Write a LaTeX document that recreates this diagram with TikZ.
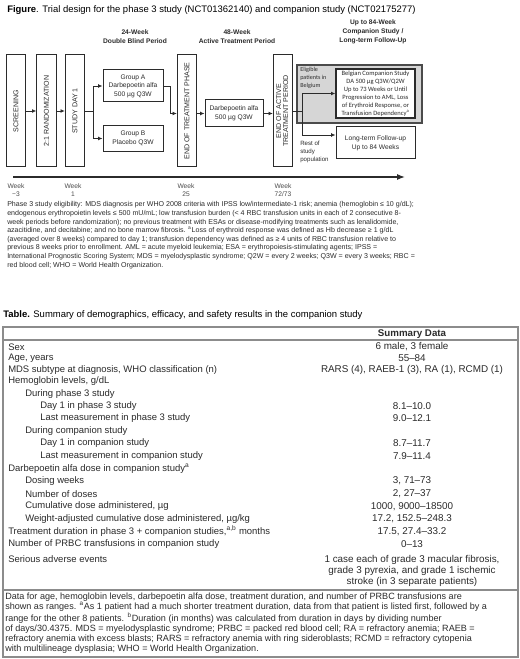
\documentclass[tikz,border=0pt]{standalone}
\usepackage{graphicx}
\usepackage{fontspec}
\setmainfont{Liberation Sans}
\newfontfamily\calibrifont{Carlito}
\usetikzlibrary{arrows.meta,positioning,calc}
\definecolor{inkdark}{HTML}{2B2B2B}
\definecolor{zonegray}{HTML}{D6D6D6}
\definecolor{rulegray}{HTML}{8C8C8C}

\begin{document}
\begin{tikzpicture}[
    x=0.75pt, y=-0.75pt,
    >={Latex[length=3.2pt,width=2.8pt]},
    phasebar/.style={draw=inkdark, line width=0.75pt, minimum width=14.5pt, minimum height=84pt, inner sep=0pt, font=\fontsize{5.3}{6.3}\selectfont, text=inkdark},
    armbox/.style={draw=inkdark, line width=0.75pt, align=center, inner sep=0pt, minimum width=45pt, font=\fontsize{5}{6.4}\selectfont, text=inkdark},
    zone/.style={draw=inkdark!85, line width=1.1pt, fill=zonegray, minimum width=93.75pt, minimum height=43.5pt, inner sep=0pt},
    period/.style={font=\fontsize{5}{6.8}\selectfont\bfseries, align=center, text=inkdark},
    flow/.style={->, line width=0.6pt, inkdark},
    timeline/.style={-{Latex[length=6pt,width=4.6pt]}, line width=1.1pt, inkdark},
    sidenote/.style={font=\fontsize{4.6}{6}\selectfont, align=left, anchor=north west, inner sep=0pt, text=inkdark},
    weeklbl/.style={font=\fontsize{5}{6.3}\selectfont, align=center, text=inkdark!85},
    caption/.style={font=\fontsize{7.1}{8.5}\selectfont, anchor=west, inner sep=0pt},
    notes/.style={font=\fontsize{5.3}{6.45}\selectfont, align=left, anchor=north west, inner sep=0pt, text=inkdark},
    tablerule/.style={rulegray, line width=0.8pt},
    rowlbl/.style={anchor=west, font=\fontsize{7.1}{8.5}\selectfont, inner sep=0pt, text=inkdark},
    rowval/.style={font=\fontsize{7.4}{8.3}\selectfont, inner sep=0pt, align=center, text=inkdark},
]
    \fill[white] (0,0) rectangle (520,659);
    \useasboundingbox (0,0) rectangle (520,659);

    % --- Figure title ---
    \node[caption] (figtitle) at (7,10) {\textbf{Figure}. Trial design for the phase 3 study (NCT01362140) and companion study (NCT02175277)};

    % --- Period headers ---
    \node[period] (hdr24) at (135,37) {24-Week\\Double Blind Period};
    \node[period] (hdr48) at (237,37) {48-Week\\Active Treatment Period};
    \node[period] (hdr84) at (373,32) {Up to 84-Week\\Companion Study /\\Long-term Follow-Up};

    % --- Phase bars ---
    \node[phasebar] (screen) at (16,111) {\rotatebox{90}{SCREENING}};
    \node[phasebar] (rand) at (46.5,111) {\rotatebox{90}{2:1 RANDOMIZATION}};
    \node[phasebar] (study) at (75,111) {\rotatebox{90}{STUDY DAY 1}};
    \node[phasebar] (endtp) at (187,111) {\rotatebox{90}{END OF TREATMENT PHASE}};
    \node[phasebar] (endat) at (283,111) {\rotatebox{90}{\begin{tabular}{@{}c@{}}END OF ACTIVE\\[-1pt]TREATMENT PERIOD\end{tabular}}};

    % --- Treatment arms ---
    \node[armbox, minimum height=24pt] (grpA) at (133,86) {Group A\\Darbepoetin alfa\\500 µg Q3W};
    \node[armbox, minimum height=19pt] (grpB) at (133,138.5) {Group B\\Placebo Q3W};
    \node[armbox, minimum width=43.5pt, minimum height=20.25pt] (dab) at (234,113.5) {Darbepoetin alfa\\500 µg Q3W};

    % --- Companion study / follow-up ---
    \node[zone] (belgzone) at (359.5,94) {};
    \node[armbox, line width=1pt, fill=white, minimum width=59.25pt, minimum height=36.75pt, font=\calibrifont\fontsize{4.9}{6.05}\selectfont] (belg) at (375.5,93.5) {Belgian Companion Study\\DA 500 µg Q3W/Q2W\\Up to 73 Weeks or Until\\Progression to AML, Loss\\of Erythroid Response, or\\Transfusion Dependency\textsuperscript{a}};
    \node[armbox, minimum width=59.25pt, minimum height=24pt, font=\fontsize{5}{6.5}\selectfont] (lterm) at (375.5,143) {Long-term Follow-up\\Up to 84 Weeks};

    \node[sidenote, font=\calibrifont\fontsize{4.6}{6}\selectfont] (elig) at (300,67) {Eligible\\patients in\\Belgium};
    \node[sidenote] (rest) at (300,140.5) {Rest of\\study\\population};

    % --- Flow ---
    \draw[flow] (screen) -- (rand);
    \draw[flow] (rand) -- (study);
    \draw[flow] (study.east) -- ++(8,0) coordinate (split1) |- (grpA.west);
    \draw[flow] (split1) |- (grpB.west);
    \draw[flow] (grpA.east) -- ++(7,0) |- (endtp.west |- dab.west);
    \draw[flow] (endtp.east |- dab.west) -- (dab.west);
    \draw[flow] (dab.east) -- (endat.west |- dab.east);
    \draw[flow] (endat.east) -- ++(9,0) coordinate (split2) |- (belg.west);
    \draw[flow] (split2) |- ([yshift=6pt]lterm.west);

    % --- Timeline ---
    \coordinate (tlstart) at (13,177);
    \coordinate (tlend) at (405,177);
    \draw[timeline] (tlstart) -- (tlend);

    \node[weeklbl] (wk0) at (16,190) {Week\\−3};
    \node[weeklbl] (wk1) at (73,190) {Week\\1};
    \node[weeklbl] (wk25) at (186,190) {Week\\25};
    \node[weeklbl] (wk72) at (283,190) {Week\\72/73};

    % --- Figure notes ---
    \node[notes] (fignotes) at (7,201.5) {Phase 3 study eligibility: MDS diagnosis per WHO 2008 criteria with IPSS low/intermediate-1 risk; anemia (hemoglobin ≤ 10 g/dL);\\
endogenous erythropoietin levels ≤ 500 mU/mL; low transfusion burden (< 4 RBC transfusion units in each of 2 consecutive 8-\\
week periods before randomization); no previous treatment with ESAs or disease-modifying treatments such as lenalidomide,\\
azacitidine, and decitabine; and no bone marrow fibrosis. \textsuperscript{a}Loss of erythroid response was defined as Hb decrease ≥ 1 g/dL\\
(averaged over 8 weeks) compared to day 1; transfusion dependency was defined as ≥ 4 units of RBC transfusion relative to\\
previous 8 weeks prior to enrollment. AML = acute myeloid leukemia; ESA = erythropoiesis-stimulating agents; IPSS =\\
International Prognostic Scoring System; MDS = myelodysplastic syndrome; Q2W = every 2 weeks; Q3W = every 3 weeks; RBC =\\
red blood cell; WHO = World Health Organization.};

    % --- Table ---
    \node[caption] (tabtitle) at (3,315) {\textbf{Table.} Summary of demographics, efficacy, and safety results in the companion study};

    \coordinate (tabNW) at (3,327);
    \coordinate (tabSE) at (518,657);
    \draw[tablerule] (tabNW) rectangle (tabSE);
    \draw[tablerule] (tabNW |- 0,340) -- (tabSE |- 0,340);
    \draw[tablerule] (tabNW |- 0,590) -- (tabSE |- 0,590);

    \node[rowval, font=\fontsize{7.3}{8}\selectfont\bfseries] (colhead) at (412,334) {Summary Data};

    \node[rowlbl] (rsex) at (8,347) {Sex};
    \node[rowlbl] (rage) at (8,358.5) {Age, years};
    \node[rowlbl] (rmds) at (8,370) {MDS subtype at diagnosis, WHO classification (n)};
    \node[rowlbl] (rhb) at (8,381.5) {Hemoglobin levels, g/dL};
    \node[rowlbl] (rhb3) at (25,394) {During phase 3 study};
    \node[rowlbl] (rhb3a) at (40,406) {Day 1 in phase 3 study};
    \node[rowlbl] (rhb3b) at (40,418.5) {Last measurement in phase 3 study};
    \node[rowlbl] (rhbc) at (25,431) {During companion study};
    \node[rowlbl] (rhbca) at (40,443.5) {Day 1 in companion study};
    \node[rowlbl] (rhbcb) at (40,456) {Last measurement in companion study};
    \node[rowlbl] (rdose) at (8,468.5) {Darbepoetin alfa dose in companion study\textsuperscript{a}};
    \node[rowlbl] (rweeks) at (25,481) {Dosing weeks};
    \node[rowlbl] (rnum) at (25,494) {Number of doses};
    \node[rowlbl] (rcum) at (25,506.5) {Cumulative dose administered, µg};
    \node[rowlbl] (rwadj) at (25,519) {Weight-adjusted cumulative dose administered, µg/kg};
    \node[rowlbl] (rdur) at (8,531.5) {Treatment duration in phase 3 + companion studies,\textsuperscript{a,b} months};
    \node[rowlbl] (rprbc) at (8,544) {Number of PRBC transfusions in companion study};
    \node[rowlbl] (rsae) at (8,559) {Serious adverse events};

    \node[rowval] (vsex) at (412,347) {6 male, 3 female};
    \node[rowval] (vage) at (412,358.5) {55–84};
    \node[rowval] (vmds) at (412,370) {RARS (4), RAEB-1 (3), RA (1), RCMD (1)};
    \node[rowval] (vhb3a) at (412,406) {8.1–10.0};
    \node[rowval] (vhb3b) at (412,418.5) {9.0–12.1};
    \node[rowval] (vhbca) at (412,443.5) {8.7–11.7};
    \node[rowval] (vhbcb) at (412,456) {7.9–11.4};
    \node[rowval] (vweeks) at (412,481) {3, 71–73};
    \node[rowval] (vnum) at (412,494) {2, 27–37};
    \node[rowval] (vcum) at (412,506.5) {1000, 9000–18500};
    \node[rowval] (vwadj) at (412,519) {17.2, 152.5–248.3};
    \node[rowval] (vdur) at (412,531.5) {17.5, 27.4–33.2};
    \node[rowval] (vprbc) at (412,544) {0–13};
    \node[rowval, anchor=north] (vsae) at (412,555) {1 case each of grade 3 macular fibrosis,\\grade 3 pyrexia, and grade 1 ischemic\\stroke (in 3 separate patients)};

    \node[notes, font=\fontsize{6.8}{7.5}\selectfont] (tabnotes) at (5,593) {Data for age, hemoglobin levels, darbepoetin alfa dose, treatment duration, and number of PRBC transfusions are\\
shown as ranges. \textsuperscript{a}As 1 patient had a much shorter treatment duration, data from that patient is listed first, followed by a\\
range for the other 8 patients. \textsuperscript{b}Duration (in months) was calculated from duration in days by dividing number\\
of days/30.4375. MDS = myelodysplastic syndrome; PRBC = packed red blood cell; RA = refractory anemia; RAEB =\\
refractory anemia with excess blasts; RARS = refractory anemia with ring sideroblasts; RCMD = refractory cytopenia\\
with multilineage dysplasia; WHO = World Health Organization.};

\end{tikzpicture}
\end{document}
